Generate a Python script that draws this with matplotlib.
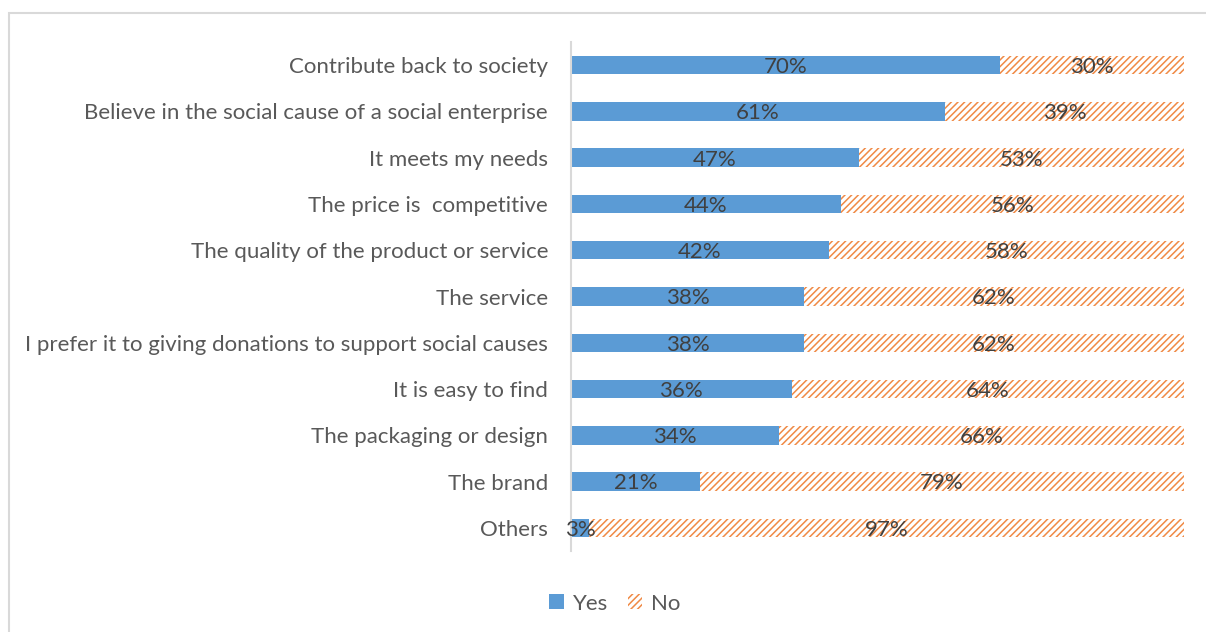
import matplotlib
matplotlib.use("Agg")
import matplotlib.pyplot as plt
import matplotlib.patches as mpatches
import numpy as np

# data
categories = ["Contribute back to society",
              "Believe in the social cause of a social enterprise",
              "It meets my needs",
              "The price is  competitive",
              "The quality of the product or service",
              "The service",
              "I prefer it to giving donations to support social causes",
              "It is easy to find",
              "The packaging or design",
              "The brand",
              "Others"]
yes_vals = [70, 61, 47, 44, 42, 38, 38, 36, 34, 21, 3]
no_vals = [30, 39, 53, 56, 58, 62, 62, 64, 66, 79, 97]

blue = "#5B9BD5"
orange = "#F08A45"
txt = "#595959"
lbl = "#404040"

plt.rcParams['font.family'] = ['Lato', 'DejaVu Sans']
plt.rcParams['hatch.linewidth'] = 1.1
plt.rcParams['hatch.color'] = orange

fig = plt.figure(figsize=(12.06, 6.32), dpi=100)
ax = fig.add_axes([0.4735, 0.1282, 0.5083, 0.8053])

y = np.arange(len(categories))
ax.barh(y, yes_vals, height=0.4, color=blue, label="Yes")
ax.barh(y, no_vals, left=yes_vals, height=0.4, color="white",
        edgecolor=orange, hatch="/////", linewidth=0, label="No")

for i in range(len(categories)):
    ax.text(yes_vals[i] / 2, y[i] + 0.04, "%d%%" % yes_vals[i], ha="center", va="center",
            fontsize=16, color=lbl)
    ax.text(yes_vals[i] + no_vals[i] / 2, y[i] + 0.04, "%d%%" % no_vals[i], ha="center",
            va="center", fontsize=16, color=lbl)

ax.set_xlim(0, 100)
ax.set_ylim(len(categories) - 0.5, -0.5)
ax.set_yticks(y)
ax.set_yticklabels(categories, fontsize=16, color=txt)
ax.tick_params(axis="y", length=0, pad=16.5)
ax.set_xticks([])
for s in ["top", "right", "bottom"]:
    ax.spines[s].set_visible(False)
ax.spines["left"].set_color("#D9D9D9")
ax.spines["left"].set_linewidth(1.5)

yes_patch = mpatches.Patch(facecolor=blue, label="Yes")
no_patch = mpatches.Patch(facecolor="white", edgecolor=orange, hatch="/////",
                          linewidth=0, label="No")
fig.legend(handles=[yes_patch, no_patch], loc="center", bbox_to_anchor=(0.51, 0.045),
           ncol=2, frameon=False, fontsize=16, labelcolor=txt,
           handlelength=0.65, handleheight=0.65, handletextpad=0.4, columnspacing=0.9)

# chart border (only top and left visible in the crop)
border = mpatches.Rectangle((9 / 1206, -0.1), 1.2, 1 - 12.5 / 632 + 0.1,
                            transform=fig.transFigure, fill=False,
                            edgecolor="#D9D9D9", linewidth=1.5)
fig.patches.append(border)

fig.savefig("out.png", dpi=100)
